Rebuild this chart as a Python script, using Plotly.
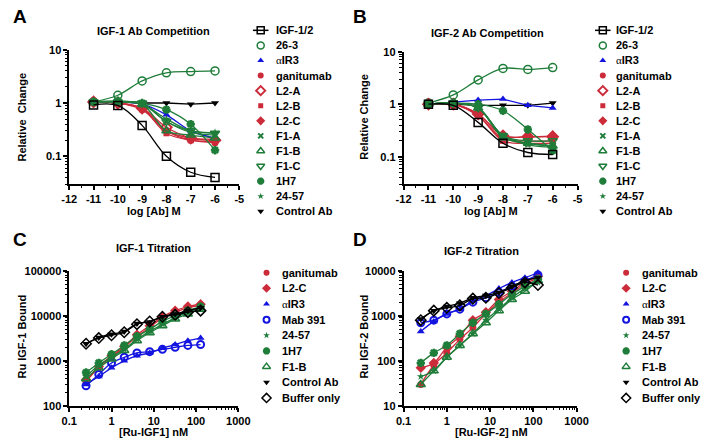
import plotly.graph_objects as go
import numpy as np

W, H = 712, 446

# ---------------- DATA ----------------
comp_x = [-11, -10, -9, -8, -7, -6]
comp_names = ["IGF-1/2", "26-3", "αIR3", "ganitumab", "L2-A", "L2-B", "L2-C",
              "F1-A", "F1-B", "F1-C", "1H7", "24-57", "Control Ab"]

compA_igf = [0.92, 0.90, 0.38, 0.10, 0.05, 0.04]
compA_263 = [1.05, 1.40, 2.60, 3.70, 3.90, 4.00]
compA_air3 = [1.05, 1.05, 0.95, 0.60, 0.30, 0.22]
compA_gani = [1.05, 1.00, 0.75, 0.30, 0.20, 0.18]
compA_l2a = [1.05, 1.00, 0.80, 0.35, 0.22, 0.20]
compA_l2b = [1.05, 1.00, 0.78, 0.27, 0.20, 0.19]
compA_l2c = [1.05, 1.00, 0.80, 0.30, 0.22, 0.21]
compA_f1a = [1.05, 1.05, 0.95, 0.45, 0.28, 0.25]
compA_f1b = [1.05, 1.05, 0.95, 0.30, 0.25, 0.22]
compA_f1c = [1.05, 1.05, 1.00, 0.45, 0.30, 0.27]
compA_1h7 = [1.05, 1.10, 1.00, 0.75, 0.40, 0.13]
compA_2457 = [1.05, 1.05, 0.95, 0.50, 0.30, 0.28]
compA_ctrl = [1.05, 1.05, 1.00, 1.00, 0.95, 1.00]

compB_igf = [1.00, 0.95, 0.45, 0.18, 0.12, 0.11]
compB_263 = [1.05, 1.50, 2.90, 4.80, 4.60, 5.00]
compB_air3 = [1.00, 1.10, 1.20, 1.25, 0.95, 0.85]
compB_gani = [1.00, 1.00, 0.60, 0.22, 0.20, 0.20]
compB_l2a = [1.00, 1.00, 0.65, 0.25, 0.24, 0.24]
compB_l2b = [1.00, 1.00, 0.60, 0.20, 0.18, 0.18]
compB_l2c = [1.00, 1.00, 0.65, 0.25, 0.24, 0.25]
compB_f1a = [1.00, 1.05, 0.85, 0.25, 0.18, 0.16]
compB_f1b = [1.00, 1.05, 0.85, 0.23, 0.18, 0.16]
compB_f1c = [1.00, 1.05, 0.85, 0.25, 0.20, 0.20]
compB_1h7 = [1.00, 1.05, 1.00, 0.75, 0.33, 0.13]
compB_2457 = [1.00, 1.05, 0.85, 0.25, 0.17, 0.15]
compB_ctrl = [1.00, 1.00, 0.95, 0.95, 0.95, 1.05]

titr_x = [0.25, 0.5, 1, 2, 4, 8, 16, 32, 64, 128]
titr_names = ["ganitumab", "L2-C", "αIR3", "Mab 391", "24-57", "1H7", "F1-B",
              "Control Ab", "Buffer only"]

titC_gani = [350, 700, 1200, 2000, 3500, 5500, 9000, 12000, 15000, 17000]
titC_l2c = [380, 750, 1300, 2100, 3800, 6000, 9500, 13000, 16000, 18000]
titC_air3 = [300, 450, 700, 1000, 1300, 1500, 1900, 2300, 2800, 3200]
titC_mab = [280, 500, 900, 1200, 1500, 1600, 1800, 2000, 2200, 2300]
titC_2457 = [450, 800, 1200, 1800, 3000, 4500, 6500, 9000, 12000, 15000]
titC_1h7 = [550, 900, 1400, 2200, 3500, 5000, 7500, 10000, 13000, 16000]
titC_f1b = [400, 700, 1100, 1700, 2800, 4200, 6000, 8500, 11000, 14000]
titC_ctrl = [2400, 3300, 3900, 4500, 6700, 7300, 9500, 11000, 13000, 15000]
titC_buf = [2400, 3200, 3700, 4300, 6500, 7500, 9500, 10500, 12000, 13000]

titD_gani = [30, 80, 150, 300, 550, 1100, 2000, 3200, 5000, 7000]
titD_l2c = [70, 90, 200, 350, 800, 1200, 2300, 3500, 5500, 7500]
titD_air3 = [450, 750, 1100, 1400, 2200, 2800, 4000, 5500, 7000, 9000]
titD_mab = [700, 800, 1100, 1400, 2000, 2500, 3300, 4500, 6000, 8000]
titD_2457 = [45, 60, 120, 220, 400, 800, 1400, 2500, 4000, 5500]
titD_1h7 = [90, 150, 220, 400, 700, 1100, 1800, 3000, 4500, 6500]
titD_f1b = [30, 60, 120, 220, 400, 700, 1300, 2300, 3500, 6000]
titD_ctrl = [850, 1300, 1600, 1900, 2500, 2800, 3300, 4500, 6000, 7000]
titD_buf = [800, 1300, 1500, 1700, 2400, 2500, 3200, 4200, 5500, 4800]

comp_tickvals = [-12, -11, -10, -9, -8, -7, -6, -5]
comp_ticktext = ["-12", "-11", "-10", "-9", "-8", "-7", "-6", "-5"]
comp_ytickvals = [0.1, 1, 10]
comp_yticktext = ["0.1", "1", "10"]
titr_xtickvals = [0.1, 1, 10, 100, 1000]
titr_xticktext = ["0.1", "1", "10", "100", "1000"]
titC_ytickvals = [100, 1000, 10000, 100000]
titC_yticktext = ["100", "1000", "10000", "100000"]
titD_ytickvals = [10, 100, 1000, 10000]
titD_yticktext = ["10", "100", "1000", "10000"]

# ---------------- STYLES ----------------
GREEN = "#1f7d3a"
RED = "#cc2b3a"
BLUE = "#1414e0"
BLACK = "#000000"
FONT = "Liberation Sans, Arial, sans-serif"

sty = {
    "IGF-1/2": dict(symbol="square-open", color=BLACK, size=8, lw=1.5),
    "26-3": dict(symbol="circle-open", color=GREEN, size=8, lw=1.5),
    "αIR3": dict(symbol="triangle-up", color=BLUE, size=7, lw=0),
    "ganitumab": dict(symbol="circle", color=RED, size=7, lw=0),
    "L2-A": dict(symbol="diamond-open", color=RED, size=8, lw=2),
    "L2-B": dict(symbol="square", color=RED, size=6, lw=0),
    "L2-C": dict(symbol="diamond", color=RED, size=8, lw=0),
    "F1-A": dict(symbol="x-thin-open", color=GREEN, size=6, lw=2),
    "F1-B": dict(symbol="triangle-up-open", color=GREEN, size=8, lw=1.5),
    "F1-C": dict(symbol="triangle-down-open", color=GREEN, size=8, lw=1.5),
    "1H7": dict(symbol="asterisk-open", color=GREEN, size=7, lw=2.5),
    "24-57": dict(symbol="star", color=GREEN, size=6, lw=0),
    "Control Ab": dict(symbol="triangle-down", color=BLACK, size=7, lw=0),
    "Mab 391": dict(symbol="circle-open", color=BLUE, size=7, lw=2),
    "Buffer only": dict(symbol="diamond-open", color=BLACK, size=8, lw=1.5),
}

def px(x):
    return x / W

def py(y):
    return 1 - y / H

fig = go.Figure()

def add_series(xs, ys, name, xa, ya, shape="spline"):
    s = sty[name]
    fig.add_trace(go.Scatter(
        x=xs, y=ys, mode="lines+markers", xaxis=xa, yaxis=ya, showlegend=False,
        name=name,
        line=dict(color=s["color"], width=1.3, shape=shape, smoothing=1.0),
        marker=dict(symbol=s["symbol"], size=s["size"], color=s["color"],
                    line=dict(color=s["color"], width=s["lw"])),
        cliponaxis=False))

A_series = [compA_igf, compA_263, compA_air3, compA_gani, compA_l2a, compA_l2b,
            compA_l2c, compA_f1a, compA_f1b, compA_f1c, compA_1h7, compA_2457, compA_ctrl]
B_series = [compB_igf, compB_263, compB_air3, compB_gani, compB_l2a, compB_l2b,
            compB_l2c, compB_f1a, compB_f1b, compB_f1c, compB_1h7, compB_2457, compB_ctrl]
C_series = [titC_gani, titC_l2c, titC_air3, titC_mab, titC_2457, titC_1h7, titC_f1b,
            titC_ctrl, titC_buf]
D_series = [titD_gani, titD_l2c, titD_air3, titD_mab, titD_2457, titD_1h7, titD_f1b,
            titD_ctrl, titD_buf]

order_comp = [1, 12, 2, 3, 4, 5, 6, 7, 8, 9, 11, 10, 0]
for i in order_comp:
    add_series(comp_x, A_series[i], comp_names[i], "x", "y",
               "linear" if comp_names[i] in ("Control Ab",) else "spline")
for i in order_comp:
    add_series(comp_x, B_series[i], comp_names[i], "x2", "y2",
               "linear" if comp_names[i] in ("Control Ab", "αIR3") else "spline")
for i in range(len(titr_names)):
    add_series(titr_x, C_series[i], titr_names[i], "x3", "y3")
for i in range(len(titr_names)):
    add_series(titr_x, D_series[i], titr_names[i], "x4", "y4")

# ---------------- LEGENDS (manual, on a pixel overlay axis) ----------------
annotations = []

def legend(names, mx, tx, y0, step, line_first=False):
    for i, n in enumerate(names):
        s = sty[n]
        yy = y0 + i * step
        if line_first and i == 0:
            fig.add_trace(go.Scatter(x=[mx - 8, mx + 8], y=[yy, yy], mode="lines",
                                     xaxis="x5", yaxis="y5", showlegend=False,
                                     line=dict(color=s["color"], width=1.5),
                                     hoverinfo="skip"))
        fig.add_trace(go.Scatter(x=[mx], y=[yy], mode="markers", xaxis="x5", yaxis="y5",
                                 showlegend=False, hoverinfo="skip",
                                 marker=dict(symbol=s["symbol"], size=s["size"] - 1,
                                             color=s["color"],
                                             line=dict(color=s["color"], width=s["lw"]))))
        label = n
        if n == "αIR3":
            label = "<span style='font-family:Liberation Serif;font-weight:normal'>α</span>IR3"
        annotations.append(dict(x=tx, y=yy, xref="x5", yref="y5", text=label,
                                showarrow=False, xanchor="left", yanchor="middle",
                                font=dict(family=FONT, size=11, color="black", weight="bold")))

legend(comp_names, 260, 274, 25, 15.5, line_first=True)
legend(comp_names, 612, 624, 25, 15.5, line_first=True)
legend(titr_names, 266, 280, 274, 16.1)
legend(titr_names, 636, 650, 274, 16.1)

# ---------------- TEXT ----------------
def txt(x, y, s, size=11, angle=0, xanchor="center"):
    annotations.append(dict(x=px(x), y=py(y), xref="paper", yref="paper", text=s,
                            showarrow=False, xanchor=xanchor, yanchor="middle",
                            textangle=angle,
                            font=dict(family=FONT, size=size, color="black", weight="bold")))

txt(12, 11, "A", 19)
txt(362, 11, "B", 19)
txt(12, 240, "C", 19)
txt(362, 240, "D", 19)
txt(150, 26, "IGF-1 Ab Competition")
txt(493, 28, "IGF-2 Ab Competition")
txt(150, 249, "IGF-1 Titration")
txt(487, 252, "IGF-2 Titration")
txt(14, 114, "Relative  Change", angle=-90)
txt(366, 114, "Relative Change", angle=-90)
txt(14, 340, "Ru IGF-1 Bound", angle=-90)
txt(366, 340, "Ru IGF-2 Bound", angle=-90)
txt(150, 211, "log [Ab] M")
txt(497, 211, "log [Ab] M")
txt(150, 438, "[Ru-IGF1] nM")
txt(497, 438, "[Ru-IGF-2] nM")

# ---------------- AXES ----------------
tickfont = dict(family=FONT, size=11, color="black", weight="bold")

def base_axis(**kw):
    d = dict(showline=True, linecolor="black", linewidth=1.5, ticks="outside",
             ticklen=4, tickwidth=1.5, tickcolor="black", showgrid=False,
             zeroline=False, tickfont=tickfont, fixedrange=True)
    d.update(kw)
    return d

def log_minor(lo, hi):
    vals = []
    for e in range(lo, hi):
        for d in range(2, 10):
            vals.append(d * 10.0 ** e)
    return dict(ticks="outside", ticklen=2.5, tickwidth=1, tickcolor="black",
                tickmode="array", tickvals=vals, showgrid=False)

comp_xminor = dict(ticks="outside", ticklen=2.5, tickwidth=1, tickcolor="black",
                   tickmode="array", tickvals=[v + 0.5 for v in comp_tickvals[:-1]],
                   showgrid=False)

layout = dict(
    width=W, height=H, margin=dict(l=0, r=0, t=0, b=0),
    paper_bgcolor="white", plot_bgcolor="rgba(0,0,0,0)", showlegend=False,
    xaxis=base_axis(domain=[px(63), px(238)], range=[-12, -5], anchor="y",
                    tickmode="array", tickvals=comp_tickvals, ticktext=comp_ticktext,
                    minor=comp_xminor),
    yaxis=base_axis(domain=[py(183), py(45)], type="log", range=[np.log10(0.03), 1],
                    anchor="x", tickmode="array", tickvals=comp_ytickvals,
                    ticktext=comp_yticktext, minor=log_minor(-2, 1)),
    xaxis2=base_axis(domain=[px(407), px(586)], range=[-12, -5], anchor="y2",
                     tickmode="array", tickvals=comp_tickvals, ticktext=comp_ticktext,
                     minor=comp_xminor),
    yaxis2=base_axis(domain=[py(183), py(47)], type="log", range=[np.log10(0.03), 1],
                     anchor="x2", tickmode="array", tickvals=comp_ytickvals,
                     ticktext=comp_yticktext, minor=log_minor(-2, 1)),
    xaxis3=base_axis(domain=[px(63), px(237)], type="log", range=[-1, 3], anchor="y3",
                     tickmode="array", tickvals=titr_xtickvals, ticktext=titr_xticktext,
                     minor=log_minor(-1, 3)),
    yaxis3=base_axis(domain=[py(411), py(272)], type="log", range=[2, 5], anchor="x3",
                     tickmode="array", tickvals=titC_ytickvals, ticktext=titC_yticktext,
                     minor=log_minor(2, 5)),
    xaxis4=base_axis(domain=[px(407), px(585)], type="log", range=[-1, 3], anchor="y4",
                     tickmode="array", tickvals=titr_xtickvals, ticktext=titr_xticktext,
                     minor=log_minor(-1, 3)),
    yaxis4=base_axis(domain=[py(411), py(272)], type="log", range=[1, 4], anchor="x4",
                     tickmode="array", tickvals=titD_ytickvals, ticktext=titD_yticktext,
                     minor=log_minor(1, 4)),
    xaxis5=dict(domain=[0, 1], range=[0, W], visible=False, fixedrange=True, anchor="y5"),
    yaxis5=dict(domain=[0, 1], range=[H, 0], visible=False, fixedrange=True, anchor="x5"),
    annotations=annotations,
)
fig.update_layout(**layout)
fig.write_html("out.html", config={"displayModeBar": False},
               post_script="document.body.style.margin='0px';")
